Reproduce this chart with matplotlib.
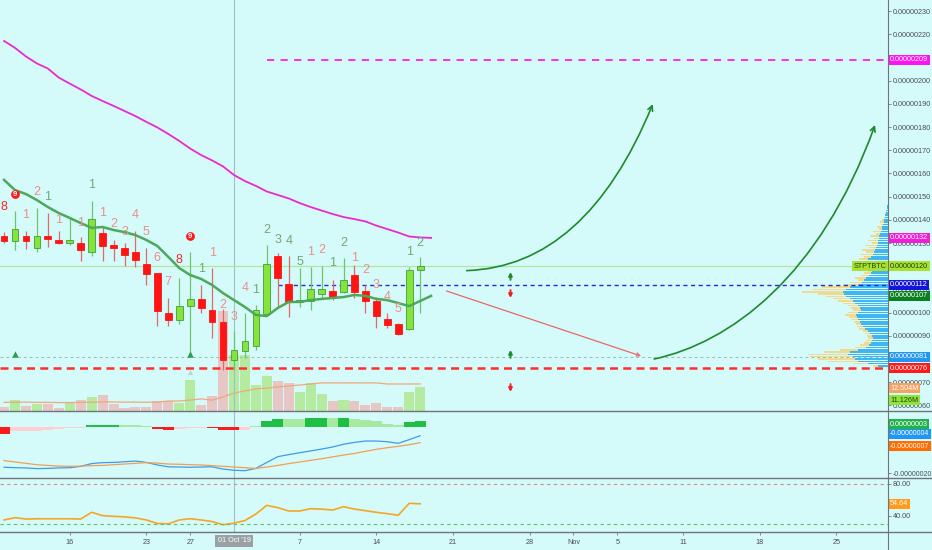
import numpy as np
import pandas as pd
import matplotlib
matplotlib.use('Agg')
import matplotlib.pyplot as plt
from matplotlib import font_manager
from matplotlib.lines import Line2D
from matplotlib.path import Path
from matplotlib.patches import FancyArrowPatch
from matplotlib.transforms import blended_transform_factory

installed = {f.name for f in font_manager.fontManager.ttflist}
narrow = 'Liberation Sans Narrow' in installed
plt.rcParams['font.family'] = ['Liberation Sans Narrow' if narrow else 'Liberation Sans', 'DejaVu Sans']
LBL = 5.8 if narrow else 5.2
LBL_NEG = 5.8 if narrow else 5.0

# ---- data (prices in units of 1e-8 BTC, volume in millions) ----
dates = pd.date_range('2019-09-10', '2019-10-18', freq='D')
opens = [133.2, 131.0, 133.2, 127.9, 133.2, 131.3, 129.9, 130.2, 126.1, 134.2, 129.1, 128.0, 126.3,
         120.8, 116.9, 99.7, 96.8, 103.0, 105.9, 101.1, 96.1, 79.6, 83.6, 85.7, 99.4, 124.4, 112.2,
         104.5, 105.0, 107.9, 109.3, 109.0, 116.1, 109.2, 105.1, 97.1, 94.9, 92.8, 118.2]
closes = [130.9, 135.9, 131.0, 133.0, 131.9, 129.9, 131.3, 127.0, 140.2, 128.9, 127.7, 124.8, 122.7,
          116.6, 100.7, 96.7, 103.0, 105.9, 101.8, 95.8, 79.6, 83.9, 87.9, 101.1, 120.9, 114.8, 104.7,
          105.5, 110.0, 110.0, 106.9, 114.0, 109.0, 105.0, 98.7, 94.7, 90.6, 118.2, 120.0]
highs = [134.9, 143.9, 135.3, 145.2, 142.8, 135.0, 141.1, 132.7, 148.3, 137.0, 131.3, 129.9, 135.2,
         127.7, 117.0, 106.2, 114.8, 126.3, 111.9, 119.1, 101.4, 92.1, 99.7, 103.3, 129.1, 125.5, 124.4,
         119.1, 119.8, 120.1, 114.0, 123.4, 120.5, 111.9, 106.9, 99.7, 95.7, 119.8, 124.1]
lows = [130.1, 127.0, 127.3, 126.3, 128.1, 129.6, 129.2, 122.4, 124.4, 122.4, 122.4, 120.2, 119.5,
        111.9, 94.2, 94.2, 95.1, 94.5, 100.0, 88.9, 75.3, 75.3, 80.3, 83.9, 99.4, 102.6, 98.2,
        102.3, 101.1, 106.1, 105.4, 108.3, 106.1, 100.0, 93.2, 93.2, 90.3, 92.5, 100.0]
volume = [1.9, 5.1, 2.3, 3.2, 3.2, 1.4, 4.2, 5.1, 6.5, 7.4, 3.2, 1.4, 1.9, 1.9, 4.6, 4.6, 3.7, 14.3,
          2.8, 6.9, 46.3, 25.9, 25.9, 12.0, 16.2, 13.9, 13.0, 8.8, 13.0, 7.9, 4.6, 5.1, 4.6, 2.8, 3.7,
          1.9, 1.9, 8.8, 11.126]
vol_ma = [4.0, 4.1, 4.1, 4.0, 4.0, 3.9, 3.9, 4.0, 4.1, 4.2, 4.2, 4.1, 4.1, 4.0, 4.1, 4.6, 4.6, 5.1,
          5.6, 5.0, 6.5, 8.3, 9.3, 10.2, 10.6, 11.1, 11.6, 12.0, 12.5, 13.0, 13.0, 13.0, 13.0, 13.0,
          13.0, 12.5, 12.5, 12.5, 12.504]
# moving averages are shifted one bar forward (40 points)
ma_green = [157.2, 152.8, 151.1, 148.5, 145.5, 142.9, 140.8, 138.6, 136.5, 136.9, 135.6, 134.7, 133.4,
            131.3, 128.7, 124.0, 119.2, 116.2, 114.5, 111.9, 108.4, 105.4, 102.4, 99.0, 98.5, 102.0,
            104.6, 104.6, 105.4, 105.9, 106.3, 106.7, 107.6, 107.2, 105.9, 105.4, 104.1, 102.8, 105.0, 107.2]
ma_pink = [217.1, 214.1, 210.4, 207.4, 205.2, 201.3, 198.7, 196.2, 193.4, 191.2, 189.1, 186.9, 184.7,
           182.2, 179.8, 177.0, 174.0, 170.7, 167.9, 165.6, 163.0, 159.3, 156.7, 154.6, 152.2, 150.7,
           149.2, 147.2, 145.5, 144.0, 142.5, 141.2, 140.3, 139.3, 137.5, 136.0, 134.5, 132.8, 132.4, 132.2]

macd = [-17.5, -17.7, -17.8, -18.1, -18.0, -17.8, -17.7, -17.1, -15.9, -15.5, -15.4, -15.1, -14.8,
        -15.4, -16.5, -17.3, -17.4, -17.5, -17.4, -17.3, -18.3, -18.8, -19.0, -18.0, -15.4, -12.9,
        -12.0, -11.2, -10.4, -9.6, -8.7, -7.5, -6.7, -6.1, -6.1, -6.4, -7.1, -5.5, -3.8]
signal = [-14.6, -15.2, -15.8, -16.4, -16.7, -17.0, -17.1, -17.0, -16.8, -16.7, -16.4, -16.1, -15.8,
          -15.5, -15.7, -16.1, -16.2, -16.4, -16.5, -16.8, -17.1, -17.4, -17.7, -18.0, -17.4, -16.7,
          -15.9, -15.2, -14.5, -13.8, -13.0, -12.2, -11.5, -10.6, -9.7, -9.0, -8.4, -7.7, -6.8]
hist = [-2.9, -1.9, -1.9, -1.6, -1.2, -0.7, -0.4, -0.3, 0.7, 1.0, 1.0, 1.0, 0.7, 0.3, -0.7, -1.2,
        -1.0, -0.6, -0.3, -0.6, -1.4, -1.4, -1.2, 0.4, 2.5, 3.5, 3.5, 3.5, 3.9, 3.9, 3.9, 3.9, 3.5,
        2.9, 2.5, 1.4, 0.7, 2.0, 2.8]
hist_kind = "RPPPPPPPGGGLLLRRPPPRRRPLGGLLGGLGLLLLLGG"
rsi = [34.4, 37.3, 35.6, 35.9, 35.9, 35.9, 35.9, 35.6, 44.0, 39.8, 39.0, 38.3, 37.0, 34.4, 30.0,
       29.6, 34.4, 36.0, 34.4, 32.5, 28.4, 30.4, 33.7, 41.9, 52.7, 49.8, 45.6, 45.6, 48.5, 48.0,
       46.8, 51.0, 48.0, 46.0, 44.0, 42.3, 40.3, 55.2, 54.64]

# TD sequential counts: bar index, text, price, kind
td_bar = [0, 1, 2, 3, 4, 5, 7, 8, 9, 10, 11, 12, 13, 14, 15, 16, 17, 18, 19, 20, 21, 22, 23, 24,
          25, 26, 27, 28, 29, 30, 31, 32, 33, 34, 35, 36, 37, 38]
td_text = ['8', '9', '1', '2', '1', '1', '1', '1', '1', '2', '3', '4', '5', '6', '7', '8', '9', '1',
           '1', '2', '3', '4', '1', '2', '3', '4', '5', '1', '2', '1', '2', '1', '2', '3', '4', '5', '1', '2']
td_price = [145.5, 151.1, 142.1, 152.0, 149.8, 139.9, 138.6, 155.0, 142.9, 138.2, 134.7, 142.1, 134.7,
            123.5, 113.2, 122.7, 133.0, 118.8, 125.7, 103.3, 98.1, 110.6, 109.7, 135.6, 131.3, 130.9,
            121.8, 126.1, 127.0, 121.4, 130.0, 123.5, 118.4, 111.9, 106.7, 101.6, 126.1, 130.0]
td_kind = ['r', 'c', 's', 's', 'g', 's', 's', 'g', 's', 's', 's', 's', 's', 's', 's', 'r', 'c', 'g',
           's', 's', 's', 's', 'g', 'g', 'g', 'g', 'g', 's', 's', 'g', 'g', 's', 's', 's', 's', 's', 'g', 'g']

# visible-range volume profile (relative widths per price row)
vp_price = list(range(146, 76, -1))
vp_up = [0.5, 1, 1.5, 2, 2.5, 3, 3.5, 4, 5, 5.5, 6, 7, 7.5, 8.5, 9, 10, 10, 11, 12, 13, 14, 15, 17,
         20, 19, 18, 16, 15, 16, 17, 19, 22, 24, 26, 30, 38, 42, 45, 44, 42, 38, 35, 33, 30, 28, 27,
         30, 32, 31, 30, 28, 27, 25, 23, 20, 18, 16, 15, 16, 17, 19, 22, 30, 38, 40, 35, 33, 30, 20, 10]
vp_total = [0.5, 1, 1.5, 2.5, 3, 4, 6, 8, 7, 11, 9, 15, 12, 18, 14, 20, 16, 23, 19, 26, 22, 28, 24,
            29, 25, 23, 21, 22, 20, 24, 27, 33, 30, 38, 45, 66, 75, 86, 70, 62, 55, 50, 45, 40, 37, 35,
            40, 43, 39, 37, 34, 32, 31, 29, 25, 23, 21, 20, 22, 24, 28, 33, 48, 64, 80, 78, 70, 60, 35, 15]

# drawings (dates, prices)
pink_level, blue_level, last_level, support_level, stop_level = 209, 112, 120, 81, 76
curve1 = [('2019-10-22 06:00', 118.1), ('2019-11-02 03:00', 119.8), ('2019-11-08 06:00', 189.9)]
curve2 = [('2019-11-08 09:00', 80.0), ('2019-11-15 06:00', 87.0), ('2019-11-23 12:00', 115.0),
          ('2019-11-28 13:00', 180.9)]
red_arrow = [('2019-10-20 04:00', 109.7), ('2019-11-07 10:00', 80.9)]
mini_arrows = [(115.8, 'up'), (108.0, 'down'), (82.2, 'up'), (67.5, 'down')]
mini_arrow_day = '2019-10-26 06:00'

tick_dates = ['2019-09-16', '2019-09-23', '2019-09-27', '2019-10-07', '2019-10-14', '2019-10-21',
              '2019-10-28', '2019-11-01', '2019-11-05', '2019-11-11', '2019-11-18', '2019-11-25']
tick_labels = ['16', '23', '27', '7', '14', '21', '28', 'Nov', '5', '11', '18', '25']

# ---- helpers ----
ref = pd.Timestamp('2019-10-01')
def day(s):
    return (pd.Timestamp(s) - ref) / pd.Timedelta(days=1)

x = np.array([day(d) for d in dates])
x_ma = np.append(x, x[-1] + 1)
up = np.array(closes) >= np.array(opens)

BG = '#d5fafa'
W, H = 932, 550
AX_R = 888
fig = plt.figure(figsize=(W / 100, H / 100), dpi=100, facecolor=BG)

def rect(top, bottom):
    return [0, 1 - bottom / H, AX_R / W, (bottom - top) / H]

xlim = (-234 / 10.95, (AX_R - 234) / 10.95)
ax = fig.add_axes(rect(0, 411))
ax_v = fig.add_axes(rect(0, 411), sharex=ax)
ax_p = fig.add_axes([(AX_R - 100) / W, 1 - 411 / H, 100 / W, 411 / H])
ax_m = fig.add_axes(rect(411, 478), sharex=ax)
ax_r = fig.add_axes(rect(478, 532), sharex=ax)
ax.set_zorder(3); ax_p.set_zorder(2); ax_v.set_zorder(1)
for a in (ax, ax_v, ax_p, ax_m, ax_r):
    a.set_facecolor('none')
    for s in a.spines.values():
        s.set_visible(False)
ax.set_xlim(*xlim)
ylim = (230 - 400 / 2.32, 230 + 11 / 2.32)
ax.set_ylim(*ylim)

TXT = '#4a4d55'

def right_ticks(a, ticks, fmt, size=LBL):
    a.yaxis.tick_right()
    a.set_yticks(ticks)
    a.set_yticklabels([fmt(t) for t in ticks])
    a.tick_params(axis='y', length=2.2, width=0.6, color='#777', labelsize=size, labelcolor=TXT, pad=1.0)
    a.tick_params(axis='x', bottom=False, labelbottom=False)

price_fmt = lambda v: f"{v * 1e-8:.8f}"
right_ticks(ax, list(range(60, 240, 10)), price_fmt)

def tag(a, y, text, bg, fg='white', align='left', size=LBL):
    tr = blended_transform_factory(a.transAxes, a.transData)
    xpos = 1 + 2.0 / AX_R if align == 'left' else 1 - 1.5 / AX_R
    a.text(xpos, y, text, transform=tr, ha=align, va='center', fontsize=size, color=fg, clip_on=False,
           zorder=10, bbox=dict(boxstyle='square,pad=0.2', fc=bg, ec='none'))

# ---- volume ----
ax_v.set_ylim(0, 411 * 0.4625)
ax_v.axis('off')
ax_v.bar(x, volume, width=0.92, color=np.where(up, '#b4eba0', '#e7c6c6'), zorder=1)
ax_v.plot(x, vol_ma, color='#f0a878', lw=0.9, zorder=2)

# ---- volume profile ----
ax_p.set_ylim(*ylim)
ax_p.set_xlim(100, 0)
ax_p.axis('off')
ax_p.barh(vp_price, vp_total, height=0.7, color='#f1d98e', zorder=1)
ax_p.barh(vp_price, vp_up, height=0.7, color='#3fb6f2', zorder=2)

# ---- horizontal levels ----
ax.axhline(last_level, color='#b2e59a', lw=0.8, zorder=1)
ax.axhline(support_level, color='#9db8be', lw=0.7, dashes=(3, 3), zorder=1)
ax.axhline(stop_level, color='#ff2e2e', lw=1.8, dashes=(3.2, 2.1), zorder=1)
ax.plot([day('2019-10-04'), xlim[1]], [pink_level] * 2, color='#ff1fe8', lw=1.3, dashes=(4, 3.5), zorder=1)
ax.plot([day('2019-10-05'), xlim[1]], [blue_level] * 2, color='#2a2ad6', lw=1.0, dashes=(3, 2.5), zorder=1)
for a in (ax, ax_m, ax_r):
    a.axvline(0, color='#9fc2c2', lw=0.8, zorder=0.5)

# ---- candles ----
body_lo = np.minimum(opens, closes)
body_h = np.maximum(np.abs(np.array(closes) - np.array(opens)), 0.3)
ax.vlines(x, lows, highs, colors=np.where(up, '#6cc46c', '#e06a6a'), lw=0.9, zorder=2)
ax.bar(x, body_h, bottom=body_lo, width=0.62, color=np.where(up, '#86e33a', '#ff1414'),
       edgecolor=np.where(up, '#3f9f3f', '#ff1414'), linewidth=0.6, zorder=3)

# moving averages
ax.plot(x_ma, ma_pink, color='#ea2ad0', lw=1.3, zorder=4)
ax.plot(x_ma, ma_green, color='#4ca85a', lw=1.8, zorder=4)

# buy signals
sig_bars = [1, 17]
ax.vlines(x[17], 82.5, lows[17], color='#6cc46c', lw=0.9, zorder=2)
ax.scatter(x[sig_bars], [82.0, 82.0], marker='^', s=22, color='#2f9e4a', zorder=5, linewidths=0)
ax.scatter([x[17]], [74.5], marker='^', s=14, color='#b9d9cc', zorder=5, linewidths=0)

# TD counts
td_colors = {'s': '#e88f8c', 'g': '#72a872', 'r': '#f02a2a'}
for b, t, p, k in zip(td_bar, td_text, td_price, td_kind):
    if k == 'c':
        ax.scatter([x[b]], [p], s=40, color='#ff1a1a', zorder=6, linewidths=0)
        ax.text(x[b], p, t, ha='center', va='center', fontsize=5.5, color='white',
                fontweight='bold', zorder=7)
    else:
        ax.text(x[b], p, t, ha='center', va='center', fontsize=9, color=td_colors[k], zorder=6)

# drawings
def arrow_path(pts):
    verts = [(day(d), p) for d, p in pts]
    codes = [Path.MOVETO] + ([Path.CURVE3] * 2 if len(verts) == 3 else [Path.CURVE4] * 3)
    return Path(verts, codes)

for pts in (curve1, curve2):
    ax.add_patch(FancyArrowPatch(path=arrow_path(pts), arrowstyle='->', mutation_scale=9,
                                 color='#1d8a2c', lw=1.2, zorder=6))
ax.annotate('', xy=(day(red_arrow[1][0]), red_arrow[1][1]), xytext=(day(red_arrow[0][0]), red_arrow[0][1]),
            arrowprops=dict(arrowstyle='->', color='#e46a6a', lw=0.9, mutation_scale=6), zorder=6)
for p, d in mini_arrows:
    dx = day(mini_arrow_day)
    sgn = 1 if d == 'up' else -1
    ax.annotate('', xy=(dx, p + sgn * 1.7), xytext=(dx, p - sgn * 1.7),
                arrowprops=dict(arrowstyle='-|>', color='#1d8a2c' if d == 'up' else '#f01e1e',
                                lw=1.4, mutation_scale=5, shrinkA=0, shrinkB=0), zorder=6)

# price tags
tag(ax, 209, price_fmt(pink_level), '#ff14f0')
tag(ax, ma_pink[-1], price_fmt(round(ma_pink[-1])), '#f01ed8')
tag(ax, last_level, price_fmt(closes[-1]), '#a6e230', fg='#2a3a10')
tag(ax, last_level, 'STPTBTC', '#a6e230', fg='#2a3a10', align='right')
tag(ax, blue_level, price_fmt(blue_level), '#1515d8')
tag(ax, ma_green[-1], price_fmt(round(ma_green[-1])), '#0b8020')
tag(ax, support_level, price_fmt(support_level), '#2196f3')
tag(ax, stop_level, price_fmt(stop_level), '#ff1a1a')
tag(ax, 67.5, f"{vol_ma[-1]:.3f}M", '#f6a266')
tag(ax, 62.3, f"{volume[-1]:.3f}M", '#8ee53a', fg='#2a3a10')

# ---- MACD ----
ax_m.set_ylim(-51 / 2.3, 16 / 2.3)
hc = {'R': '#ff1a1a', 'P': '#ffcdd2', 'G': '#1fbf45', 'L': '#a6eaa2'}
ax_m.bar(x, hist, width=1.0, color=[hc[k] for k in hist_kind], zorder=1)
ax_m.plot(x, macd, color='#3d9be9', lw=0.9, zorder=2)
ax_m.plot(x, signal, color='#f0a050', lw=0.9, zorder=2)
right_ticks(ax_m, [0, -20], price_fmt, size=LBL_NEG)
tag(ax_m, 1.3, price_fmt(3), '#22b14c')
tag(ax_m, -3.0, price_fmt(-4), '#2196f3', size=LBL_NEG)
tag(ax_m, -8.3, price_fmt(-7), '#ff6d00', size=LBL_NEG)

# ---- RSI ----
ax_r.set_ylim(30 - 8.5 / 0.8, 80 + 5.5 / 0.8)
ax_r.plot(x, rsi, color='#f5a623', lw=1.2, zorder=2)
ax_r.axhline(80, color='#d98a8a', lw=0.8, dashes=(3, 3))
ax_r.axhline(30, color='#5cc25c', lw=0.8, dashes=(3, 3))
right_ticks(ax_r, [80, 40], lambda v: f"{v:.2f}")
tag(ax_r, rsi[-1], f"{rsi[-1]:.2f}", '#ff9a1a')

# date axis
ax_r.tick_params(axis='x', bottom=True, labelbottom=True, length=2, width=0.6, color='#777',
                 labelsize=LBL, labelcolor=TXT, pad=3)
ax_r.set_xticks([day(d) for d in tick_dates])
ax_r.set_xticklabels(tick_labels)
ax_r.text(0, -9 / 54, "01 Oct '19", transform=blended_transform_factory(ax_r.transData, ax_r.transAxes),
          ha='center', va='center', fontsize=LBL, color='white', clip_on=False, zorder=10,
          bbox=dict(boxstyle='square,pad=0.4', fc='#9aa1a5', ec='none'))

# panel borders
for yy in (411, 478, 532):
    fig.add_artist(Line2D([0, 1], [1 - yy / H] * 2, color='#6f7478', lw=1.0))
fig.add_artist(Line2D([AX_R / W] * 2, [0, 1], color='#6f7478', lw=0.8))

fig.savefig('out.png', dpi=100, facecolor=BG)
